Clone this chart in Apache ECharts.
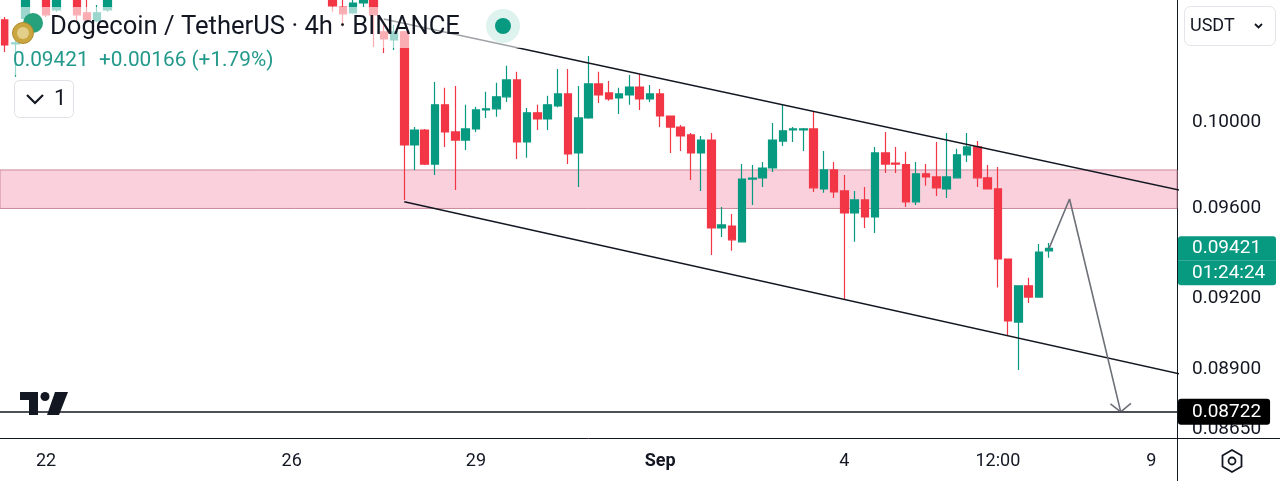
<!DOCTYPE html>
<html>
<head>
<meta charset="utf-8">
<script src="https://cdn.jsdelivr.net/npm/echarts@6/dist/echarts.min.js"></script>
<style>
html,body{margin:0;padding:0;background:#ffffff;}
#chart{width:1280px;height:481px;}
</style>
</head>
<body>
<div id="chart"></div>
<script>
// ---- time slots (4h candles), first slot 2024-08-21 08:00 UTC ----
const slotStart = Date.UTC(2024, 7, 21, 8, 0);
const slotCount = 115;
function slotName(t) {
  const d = new Date(t);
  const p = n => (n < 10 ? '0' : '') + n;
  return p(d.getUTCMonth() + 1) + '-' + p(d.getUTCDate()) + ' ' + p(d.getUTCHours()) + ':00';
}
const categories = [];
for (let i = 0; i < slotCount; i++) categories.push(slotName(slotStart + i * 4 * 3600 * 1000));

// ---- x tick labels ----
const xTickLabels = {
  '08-22 00:00': '22',
  '08-26 00:00': '26',
  '08-29 00:00': '29',
  '09-01 00:00': 'Sep',
  '09-04 00:00': '4',
  '09-06 12:00': '12:00',
  '09-09 00:00': '9'
};

// ---- y tick labels (log price scale) ----
const yTicks = [0.0865, 0.089, 0.092, 0.096, 0.1];
const yMin = 0.08615;
const yMax = 0.10592;

// ---- candles: [open, close, low, high] ----
const candles = [
  [0.10493, 0.10370, 0.10335, 0.10508],
  [0.10375, 0.10380, 0.10215, 0.10434],
  [0.10500, 0.10660, 0.10480, 0.10700],
  [0.10660, 0.10630, 0.10605, 0.10720],
  [0.10640, 0.10518, 0.10508, 0.10680],
  [0.10543, 0.10650, 0.10533, 0.10690],
  [0.10650, 0.10625, 0.10605, 0.10700],
  [0.10640, 0.10518, 0.10483, 0.10660],
  [0.10528, 0.10493, 0.10483, 0.10600],
  [0.10488, 0.10528, 0.10483, 0.10567],
  [0.10543, 0.10640, 0.10533, 0.10680],
  [0.10640, 0.10700, 0.10610, 0.10740],
  [0.10700, 0.10760, 0.10680, 0.10800],
  [0.10760, 0.10720, 0.10690, 0.10790],
  [0.10720, 0.10800, 0.10700, 0.10840],
  [0.10800, 0.10860, 0.10780, 0.10900],
  [0.10860, 0.10810, 0.10770, 0.10890],
  [0.10810, 0.10750, 0.10720, 0.10830],
  [0.10750, 0.10790, 0.10730, 0.10820],
  [0.10790, 0.10880, 0.10770, 0.10920],
  [0.10880, 0.10840, 0.10800, 0.10950],
  [0.10840, 0.10760, 0.10740, 0.10860],
  [0.10760, 0.10700, 0.10660, 0.10780],
  [0.10700, 0.10740, 0.10670, 0.10770],
  [0.10740, 0.10820, 0.10720, 0.10850],
  [0.10820, 0.10780, 0.10750, 0.10860],
  [0.10780, 0.10710, 0.10680, 0.10800],
  [0.10710, 0.10680, 0.10640, 0.10730],
  [0.10680, 0.10730, 0.10650, 0.10760],
  [0.10730, 0.10690, 0.10660, 0.10750],
  [0.10690, 0.10720, 0.10650, 0.10740],
  [0.10720, 0.10660, 0.10620, 0.10740],
  [0.10660, 0.10562, 0.10533, 0.10700],
  [0.10557, 0.10523, 0.10459, 0.10610],
  [0.10528, 0.10577, 0.10523, 0.10610],
  [0.10577, 0.10620, 0.10557, 0.10640],
  [0.10630, 0.10518, 0.10360, 0.10660],
  [0.10434, 0.10399, 0.10330, 0.10478],
  [0.10394, 0.10434, 0.10345, 0.10468],
  [0.10434, 0.09892, 0.09639, 0.10440],
  [0.09892, 0.09962, 0.09776, 0.09976],
  [0.09962, 0.09803, 0.09799, 0.09967],
  [0.09803, 0.10081, 0.09753, 0.10190],
  [0.10081, 0.09953, 0.09883, 0.10162],
  [0.09953, 0.09915, 0.09684, 0.10171],
  [0.09915, 0.09967, 0.09869, 0.10081],
  [0.09967, 0.10057, 0.09953, 0.10071],
  [0.10057, 0.10062, 0.10019, 0.10143],
  [0.10062, 0.10119, 0.10024, 0.10186],
  [0.10119, 0.10200, 0.10095, 0.10268],
  [0.10200, 0.09906, 0.09827, 0.10239],
  [0.09906, 0.10043, 0.09832, 0.10066],
  [0.10043, 0.10014, 0.09962, 0.10081],
  [0.10014, 0.10081, 0.09962, 0.10124],
  [0.10076, 0.10133, 0.10070, 0.10253],
  [0.10133, 0.09850, 0.09803, 0.10253],
  [0.09855, 0.10019, 0.09698, 0.10171],
  [0.10019, 0.10181, 0.10015, 0.10316],
  [0.10181, 0.10128, 0.10090, 0.10239],
  [0.10138, 0.10109, 0.10100, 0.10195],
  [0.10114, 0.10133, 0.10038, 0.10162],
  [0.10128, 0.10166, 0.10081, 0.10224],
  [0.10166, 0.10109, 0.10057, 0.10229],
  [0.10109, 0.10133, 0.10095, 0.10176],
  [0.10133, 0.10028, 0.09976, 0.10157],
  [0.10028, 0.09976, 0.09855, 0.10030],
  [0.09976, 0.09934, 0.09864, 0.09986],
  [0.09939, 0.09855, 0.09730, 0.09948],
  [0.09855, 0.09915, 0.09680, 0.09934],
  [0.09915, 0.09512, 0.09392, 0.09948],
  [0.09512, 0.09526, 0.09472, 0.09607],
  [0.09521, 0.09459, 0.09410, 0.09575],
  [0.09450, 0.09734, 0.09448, 0.09803],
  [0.09734, 0.09739, 0.09616, 0.09799],
  [0.09739, 0.09785, 0.09698, 0.09813],
  [0.09785, 0.09915, 0.09767, 0.09995],
  [0.09910, 0.09958, 0.09887, 0.10081],
  [0.09962, 0.09967, 0.09906, 0.09976],
  [0.09962, 0.09967, 0.09864, 0.09972],
  [0.09967, 0.09694, 0.09675, 0.10047],
  [0.09689, 0.09776, 0.09671, 0.09864],
  [0.09776, 0.09675, 0.09648, 0.09813],
  [0.09680, 0.09580, 0.09195, 0.09753],
  [0.09580, 0.09639, 0.09450, 0.09680],
  [0.09639, 0.09562, 0.09512, 0.09698],
  [0.09562, 0.09855, 0.09490, 0.09883],
  [0.09855, 0.09803, 0.09762, 0.09953],
  [0.09808, 0.09803, 0.09762, 0.09883],
  [0.09801, 0.09630, 0.09607, 0.09860],
  [0.09630, 0.09758, 0.09616, 0.09813],
  [0.09758, 0.09744, 0.09703, 0.09803],
  [0.09744, 0.09694, 0.09657, 0.09906],
  [0.09689, 0.09744, 0.09648, 0.09948],
  [0.09740, 0.09846, 0.09738, 0.09874],
  [0.09846, 0.09883, 0.09813, 0.09948],
  [0.09883, 0.09740, 0.09698, 0.09910],
  [0.09740, 0.09689, 0.09686, 0.09799],
  [0.09689, 0.09374, 0.09249, 0.09790],
  [0.09374, 0.09104, 0.09044, 0.09376],
  [0.09099, 0.09256, 0.08896, 0.09258],
  [0.09256, 0.09207, 0.09181, 0.09291],
  [0.09207, 0.09405, 0.09205, 0.09441],
  [0.09410, 0.09421, 0.09379, 0.09445]
];

// ---- annotations ----
const lastPrice = 0.09421;
const countdown = '01:24:24';
const priceChange = '+0.00166 (+1.79%)';
const supportLevel = 0.08722;
const zoneTop = 0.09776;
const zoneBottom = 0.09600;
const upperChannel = [[37, 0.10498], [114.5, 0.09681]];
const lowerChannel = [[39, 0.09631], [114.5, 0.08877]];
const projection = [[102, 0.09421], [104, 0.09643], [109, 0.08722]];
const arrowHead = [[108.24, 0.087545], [109, 0.08722], [109.76, 0.08757]];

const UP = '#089981';
const DOWN = '#F23645';
const INK = '#131722';
const FONT = 'Roboto, "Noto Sans", sans-serif';

const chart = echarts.init(document.getElementById('chart'), null, {renderer: 'canvas'});

const priceTag = {color: '#ffffff', fontSize: 19, fontFamily: FONT, width: 84, height: 24.5, lineHeight: 24.5, padding: [0, 0, 0, 14], backgroundColor: UP};

const option = {
  animation: false,
  backgroundColor: '#ffffff',
  grid: {left: -3, right: 103, top: 0, bottom: 43},
  xAxis: {
    type: 'category',
    data: categories,
    boundaryGap: true,
    axisLine: {show: true, lineStyle: {color: INK, width: 1}},
    axisTick: {show: false},
    splitLine: {show: false},
    axisLabel: {
      interval: (idx, val) => xTickLabels[val] !== undefined,
      formatter: val => {
        const t = xTickLabels[val] || '';
        return t === 'Sep' ? '{b|Sep}' : t;
      },
      color: INK,
      fontSize: 18,
      fontFamily: FONT,
      margin: 14,
      rich: {b: {fontWeight: 'bold', fontSize: 18, color: INK, fontFamily: FONT}}
    }
  },
  yAxis: {
    type: 'log',
    logBase: 10,
    position: 'right',
    min: yMin,
    max: yMax,
    axisLine: {show: true, lineStyle: {color: INK, width: 1}},
    axisTick: {show: false},
    splitLine: {show: false},
    axisLabel: {
      customValues: yTicks,
      formatter: v => Number(v).toFixed(5),
      color: INK,
      fontSize: 19,
      fontFamily: FONT,
      margin: 15
    }
  },
  series: [
    {
      name: 'DOGEUSDT',
      type: 'candlestick',
      data: candles,
      barWidth: 8,
      clip: false,
      z: 2,
      itemStyle: {color: UP, color0: DOWN, borderColor: UP, borderColor0: DOWN, borderWidth: 1.2},
      markArea: {
        silent: true,
        z: 1,
        itemStyle: {color: '#f9d0dc', borderColor: '#c98a9c', borderWidth: 1},
        data: [[{yAxis: zoneTop}, {yAxis: zoneBottom}]]
      },
      markLine: {
        silent: true,
        symbol: 'none',
        precision: 5,
        z: 6,
        data: [
          {
            yAxis: supportLevel,
            lineStyle: {color: '#4d4f56', width: 2, type: 'solid'},
            label: {
              show: true, position: 'end', distance: 1,
              formatter: () => supportLevel.toFixed(5),
              backgroundColor: '#000000', color: '#ffffff',
              fontSize: 19, fontFamily: FONT, padding: [4, 9, 3, 14], borderRadius: 3
            }
          },
          {
            yAxis: lastPrice,
            lineStyle: {color: 'rgba(255,255,255,0)', width: 1, opacity: 1},
            label: {
              show: true, position: 'end', distance: 1, opacity: 1,
              formatter: () => '{e| }\n{a|' + lastPrice.toFixed(5) + '}\n{b|' + countdown + '}',
              rich: {
                e: {height: 24.5, lineHeight: 24.5, fontSize: 10, color: 'rgba(0,0,0,0)'},
                a: Object.assign({}, priceTag, {borderRadius: [3, 3, 0, 0]}),
                b: Object.assign({}, priceTag, {borderRadius: [0, 0, 3, 3]})
              }
            }
          }
        ]
      }
    },
    {
      name: 'upper channel', type: 'line', data: upperChannel, symbol: 'none', clip: false, z: 4,
      lineStyle: {color: INK, width: 1.5}, silent: true
    },
    {
      name: 'lower channel', type: 'line', data: lowerChannel, symbol: 'none', clip: false, z: 4,
      lineStyle: {color: INK, width: 1.5}, silent: true
    },
    {
      name: 'projection', type: 'line', data: projection, symbol: 'none', clip: false, z: 4,
      lineStyle: {color: '#6d7079', width: 1.6}, silent: true
    },
    {
      name: 'arrow head', type: 'line', data: arrowHead, symbol: 'none', clip: false, z: 4,
      lineStyle: {color: '#6d7079', width: 1.6}, silent: true
    }
  ],
  graphic: [
    // translucent legend backdrop
    {type: 'rect', z: 50, silent: true, shape: {x: 8, y: 7, width: 520, height: 41}, style: {fill: 'rgba(255,255,255,0.6)'}},
    {type: 'rect', z: 50, silent: true, shape: {x: 8, y: 48, width: 272, height: 27}, style: {fill: 'rgba(255,255,255,0.6)'}},
    // coin icons
    {type: 'circle', z: 51, shape: {cx: 33, cy: 23, r: 10}, style: {fill: '#26a17b'}},
    {type: 'circle', z: 52, shape: {cx: 23, cy: 33, r: 10.5}, style: {fill: '#c9a640', stroke: '#b08d2e', lineWidth: 1}},
    {type: 'circle', z: 53, shape: {cx: 23, cy: 33, r: 6}, style: {fill: '#e4cf8a'}},
    // header text
    {type: 'text', z: 53, x: 50, y: 28, style: {text: 'Dogecoin / TetherUS · 4h · BINANCE', fill: INK, fontSize: 25.6, fontFamily: FONT, verticalAlign: 'middle'}},
    {type: 'circle', z: 53, shape: {cx: 503, cy: 26, r: 17}, style: {fill: '#dff3ee'}},
    {type: 'circle', z: 54, shape: {cx: 503, cy: 26, r: 8}, style: {fill: UP}},
    {type: 'text', z: 53, x: 13, y: 61, style: {text: lastPrice.toFixed(5) + '  ' + priceChange, fill: '#22998a', fontSize: 20.8, fontFamily: FONT, verticalAlign: 'middle'}},
    // collapse box
    {type: 'rect', z: 53, shape: {x: 14.5, y: 80.5, width: 59, height: 37, r: 5}, style: {fill: '#ffffff', stroke: '#dfe1e6', lineWidth: 1}},
    {type: 'polyline', z: 54, shape: {points: [[27, 95], [35, 103], [43, 95]]}, style: {stroke: INK, lineWidth: 2.2, fill: null}},
    {type: 'text', z: 54, x: 54, y: 99, style: {text: '1', fill: INK, fontSize: 22, fontFamily: FONT, verticalAlign: 'middle'}},
    // currency box
    {type: 'rect', z: 53, shape: {x: 1184.5, y: 6.5, width: 91, height: 39, r: 6}, style: {fill: '#ffffff', stroke: '#e3e5ea', lineWidth: 1}},
    {type: 'text', z: 54, x: 1190, y: 26, style: {text: 'USDT', fill: INK, fontSize: 18, fontFamily: FONT, verticalAlign: 'middle'}},
    {type: 'polyline', z: 54, shape: {points: [[1255, 24], [1258.5, 27.5], [1262, 24]]}, style: {stroke: INK, lineWidth: 1.8, fill: null}},
    // TradingView logo
    {type: 'rect', z: 60, shape: {x: 20, y: 392, width: 18, height: 8}, style: {fill: INK}},
    {type: 'rect', z: 60, shape: {x: 29, y: 392, width: 9, height: 23}, style: {fill: INK}},
    {type: 'circle', z: 60, shape: {cx: 45, cy: 396.5, r: 4.5}, style: {fill: INK}},
    {type: 'polygon', z: 60, shape: {points: [[55, 392], [68, 392], [59, 415], [47, 415]]}, style: {fill: INK}},
    // frame extensions
    {type: 'line', z: 40, shape: {x1: 1177.5, y1: 438, x2: 1177.5, y2: 481}, style: {stroke: INK, lineWidth: 1}},
    {type: 'line', z: 40, shape: {x1: 1177, y1: 438.5, x2: 1280, y2: 438.5}, style: {stroke: INK, lineWidth: 1}},
    // settings icon
    {type: 'polygon', z: 40, shape: {points: [[1232, 450], [1241.5, 455.5], [1241.5, 466.5], [1232, 472], [1222.5, 466.5], [1222.5, 455.5]]}, style: {fill: null, stroke: INK, lineWidth: 1.8}},
    {type: 'circle', z: 40, shape: {cx: 1232, cy: 461, r: 3.5}, style: {fill: null, stroke: INK, lineWidth: 1.8}}
  ]
};

chart.setOption(option);
</script>
</body>
</html>
